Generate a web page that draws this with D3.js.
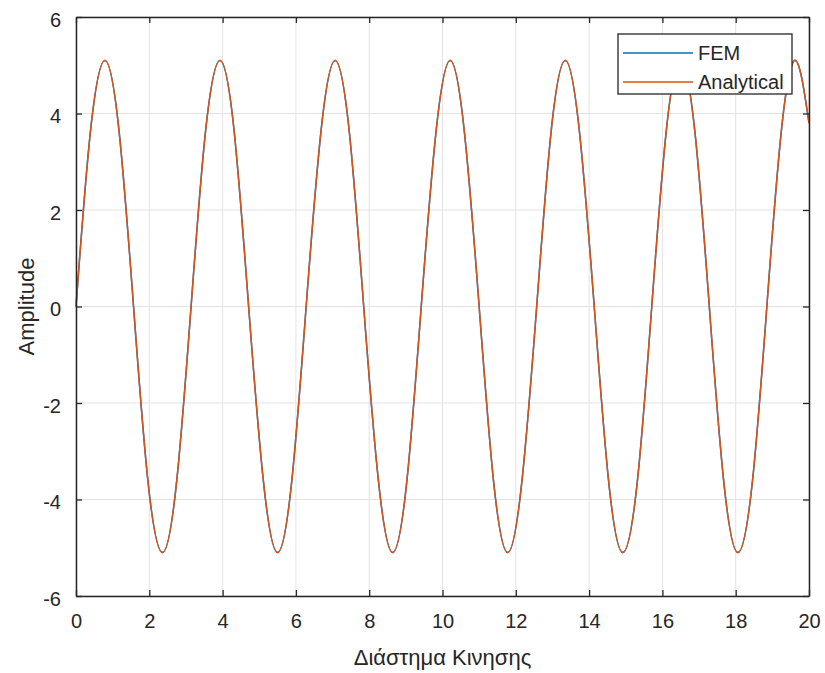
<!DOCTYPE html>
<html>
<head>
<meta charset="utf-8">
<script src="https://cdn.jsdelivr.net/npm/d3@7"></script>
<style>
  body { margin: 0; background: #fff; }
  text { font-family: "Liberation Sans", Arial, sans-serif; fill: #262626; }
</style>
</head>
<body>
<script>
// sample points (x in Διάστημα Κινησης, y in Amplitude)
var xVals = [0, 0.39, 0.79, 1.18, 1.57, 1.96, 2.36, 2.75, 3.14, 3.53, 3.93, 4.32, 4.71, 5.11, 5.50, 5.89,
  6.28, 6.68, 7.07, 7.46, 7.85, 8.25, 8.64, 9.03, 9.42, 9.82, 10.21, 10.60, 11.00, 11.39, 11.78, 12.17,
  12.57, 12.96, 13.35, 13.74, 14.14, 14.53, 14.92, 15.32, 15.71, 16.10, 16.49, 16.89, 17.28, 17.67, 18.06,
  18.46, 18.85, 19.24, 19.63, 20.0];
var analyticalY = [0, 3.6, 5.1, 3.6, 0, -3.6, -5.1, -3.6, 0, 3.6, 5.1, 3.6, 0, -3.6, -5.1, -3.6,
  0, 3.6, 5.1, 3.6, 0, -3.6, -5.1, -3.6, 0, 3.6, 5.1, 3.6, 0, -3.6, -5.1, -3.6,
  0, 3.6, 5.1, 3.6, 0, -3.6, -5.1, -3.6, 0, 3.6, 5.1, 3.6, 0, -3.6, -5.1,
  -3.6, 0, 3.6, 5.1, 3.8];
var femY = [0, 3.6, 5.1, 3.6, 0, -3.6, -5.1, -3.6, 0, 3.6, 5.1, 3.6, 0, -3.6, -5.1, -3.6,
  0, 3.6, 5.1, 3.6, 0, -3.6, -5.1, -3.6, 0, 3.6, 5.1, 3.6, 0, -3.6, -5.1, -3.6,
  0, 3.6, 5.1, 3.6, 0, -3.6, -5.1, -3.6, 0, 3.6, 5.1, 3.6, 0, -3.6, -5.1,
  -3.6, 0, 3.6, 5.1, 3.8];
var xTicks = [0, 2, 4, 6, 8, 10, 12, 14, 16, 18, 20];
var yTicks = [-6, -4, -2, 0, 2, 4, 6];
var seriesNames = ["FEM", "Analytical"];
var seriesColors = ["#0072BD", "#D95319"];

var width = 825, height = 673;
var margin = { left: 76, top: 17, right: 16, bottom: 77 };
var pw = width - margin.left - margin.right;
var ph = height - margin.top - margin.bottom;

var x = d3.scaleLinear().domain([0, 20]).range([0, pw]);
var y = d3.scaleLinear().domain([-6, 6]).range([ph, 0]);

var svg = d3.select("body").append("svg").attr("width", width).attr("height", height);
var g = svg.append("g").attr("transform", "translate(" + margin.left + "," + margin.top + ")");

// grid
g.append("g").selectAll("line").data(xTicks).enter().append("line")
  .attr("x1", d => x(d)).attr("x2", d => x(d)).attr("y1", 0).attr("y2", ph)
  .attr("stroke", "#e3e3e3").attr("stroke-width", 1);
g.append("g").selectAll("line").data(yTicks).enter().append("line")
  .attr("y1", d => y(d)).attr("y2", d => y(d)).attr("x1", 0).attr("x2", pw)
  .attr("stroke", "#e3e3e3").attr("stroke-width", 1);

// lines
var line = d3.line().curve(d3.curveNatural)
  .x(d => x(d[0])).y(d => y(d[1]));
var series = [xVals.map((v, i) => [v, femY[i]]), xVals.map((v, i) => [v, analyticalY[i]])];
g.append("g").selectAll("path").data(series).enter().append("path")
  .attr("d", line).attr("fill", "none")
  .attr("stroke", (d, i) => seriesColors[i]).attr("stroke-width", 1.5);

// axes (inward ticks, all four sides)
var tl = 6;
var fmt = d => String(d);
var xb = g.append("g").attr("transform", "translate(0," + ph + ")")
  .call(d3.axisBottom(x).tickValues(xTicks).tickFormat(fmt).tickSizeInner(-tl).tickSizeOuter(0).tickPadding(18));
var xt = g.append("g")
  .call(d3.axisTop(x).tickValues(xTicks).tickSizeInner(-tl).tickSizeOuter(0).tickFormat(""));
var yl = g.append("g")
  .call(d3.axisLeft(y).tickValues(yTicks).tickFormat(fmt).tickSizeInner(-tl).tickSizeOuter(0).tickPadding(15));
var yr = g.append("g").attr("transform", "translate(" + pw + ",0)")
  .call(d3.axisRight(y).tickValues(yTicks).tickSizeInner(-tl).tickSizeOuter(0).tickFormat(""));
[xb, xt, yl, yr].forEach(function (a) {
  a.select(".domain").attr("stroke", "#262626").attr("stroke-width", 1.5);
  a.selectAll(".tick line").attr("stroke", "#262626").attr("stroke-width", 1.3);
  a.selectAll(".tick text").attr("font-size", 20).attr("fill", "#333")
    .attr("font-family", "Liberation Sans, Arial, sans-serif");
});
yl.selectAll(".tick text").attr("dy", "0.45em");

// axis titles
svg.append("text").attr("x", margin.left + pw / 2).attr("y", 665)
  .attr("text-anchor", "middle").attr("font-size", 22).text("Διάστημα Κινησης");
svg.append("text").attr("transform", "translate(34," + (margin.top + ph / 2) + ") rotate(-90)")
  .attr("text-anchor", "middle").attr("font-size", 22).text("Amplitude");

// legend
var lg = g.append("g").attr("transform", "translate(" + (pw - 17 - 174) + ",17)");
lg.append("rect").attr("width", 174).attr("height", 60).attr("fill", "#fff")
  .attr("stroke", "#262626").attr("stroke-width", 1.3);
seriesNames.forEach(function (name, i) {
  var yy = 19 + i * 29;
  lg.append("line").attr("x1", 5).attr("x2", 75).attr("y1", yy).attr("y2", yy)
    .attr("stroke", seriesColors[i]).attr("stroke-width", 1.5);
  lg.append("text").attr("x", 80).attr("y", yy).attr("dy", "0.35em")
    .attr("font-size", 20).text(name);
});
</script>
</body>
</html>
